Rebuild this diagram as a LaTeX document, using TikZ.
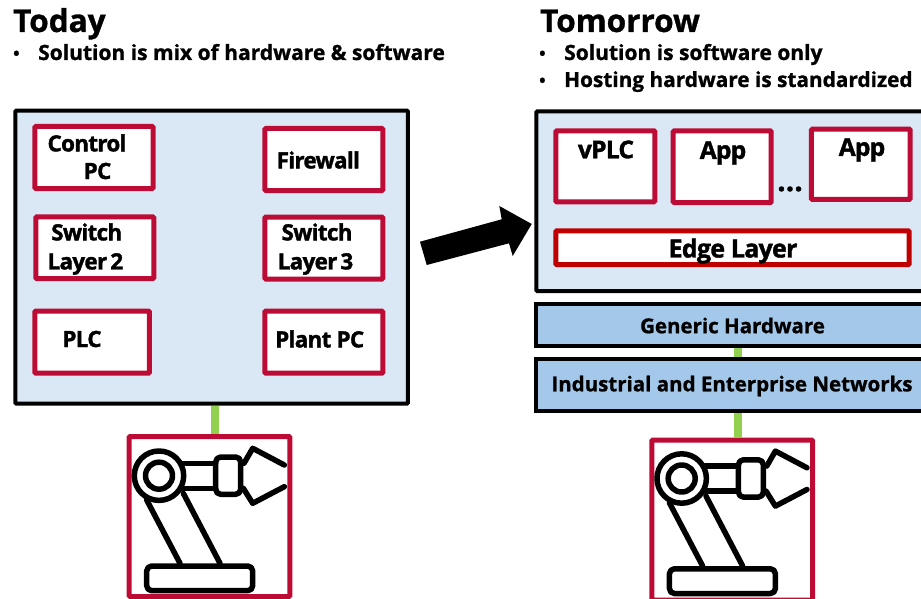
\documentclass[tikz,border=0pt]{standalone}
\usepackage{fontspec}
\setmainfont{Open Sans}[BoldFeatures={FakeBold=1}]
\newfontfamily\boxfont{Open Sans}[LetterSpace=-3,BoldFeatures={FakeBold=1.5}]
\definecolor{panelblue}{HTML}{DAE8F5}
\definecolor{layerblue}{HTML}{A3C8EA}
\definecolor{boxred}{HTML}{BC0C35}
\definecolor{edgered}{HTML}{C00000}
\definecolor{linkgreen}{HTML}{92D050}
\newcommand{\bulletline}[1]{\makebox[25pt][l]{\fontsize{17}{17}\selectfont\raisebox{0.5pt}{•}}#1}
\tikzset{
  panel/.style={draw=black,line width=4pt,fill=panelblue,rounded corners=1pt,inner sep=0pt},
  layer/.style={draw=black,line width=4pt,fill=layerblue,inner sep=0pt},
  redbox/.style={draw=boxred,line width=5pt,fill=white,rounded corners=1pt,inner sep=0pt},
  edgebox/.style={draw=edgered,line width=5pt,fill=white,rounded corners=1pt,inner sep=0pt},
  title/.style={anchor=base west,inner sep=0pt,font=\bfseries\fontsize{31.5}{31.5}\selectfont},
  point/.style={anchor=base west,inner sep=0pt,font=\bfseries\fontsize{21}{24}\selectfont},
  boxtext/.style={inner sep=0pt,font=\boxfont\bfseries\fontsize{22.4}{28}\selectfont},
  bigboxtext/.style={inner sep=0pt,font=\boxfont\bfseries\fontsize{24.5}{28}\selectfont},
  layertext/.style={inner sep=0pt,font=\bfseries\fontsize{20.5}{24}\selectfont},
  greenlink/.style={draw=linkgreen,line width=8pt},
  robotline/.style={draw=black,line width=5.5pt,line cap=round,line join=round},
  robotarm/.pic={
    \draw[robotline] (159,475.7) circle (24.7);
    \draw[robotline] (159,475.7) circle (13.5);
    \draw[robotline] (183,463.3) -- (215.7,463.3);
    \draw[robotline] (183,488.3) -- (215.7,488.3);
    \draw[robotline,rounded corners=5pt] (215.7,457) rectangle (240.7,494.3);
    \draw[robotline] (244,463.3) -- (252.7,448.3) -- (284.3,465);
    \draw[robotline] (243.3,488.3) -- (252.7,503.3) -- (284.3,486.7);
    \draw[robotline] (146.7,500) -- (180,563.3);
    \draw[robotline] (183.3,493.3) -- (220,563.3);
    \draw[robotline,rounded corners=5pt] (146.7,566) rectangle (252.7,590.7);
  }
}
\begin{document}
\begin{tikzpicture}[x=1pt,y=-1pt]
  \useasboundingbox (0,0) rectangle (921,599);
  \clip (0,0) rectangle (921,599);

  \node[title] (today) at (13,32) {Today};
  \node[point] (mix) at (13,60) {\bulletline{Solution is mix of hardware \& software}};
  \node[title] (tomorrow) at (540,32) {Tomorrow};
  \node[point] (softonly) at (539,60) {\bulletline{Solution is software only}};
  \node[point,font=\bfseries\fontsize{20.8}{24}\selectfont] (hosting) at (539,87) {\bulletline{Hosting hardware is standardized}};

  \node[panel,minimum width=392.7pt,minimum height=292.8pt] (todaypanel) at (211.6,257.1) {};
  \node[redbox,minimum width=118.4pt,minimum height=62pt] (controlbox) at (94,157.5) {};
  \node[redbox,minimum width=118pt,minimum height=62pt] (firewallbox) at (323.8,159.5) {};
  \node[redbox,minimum width=118pt,minimum height=61.7pt] (switchtwobox) at (94.8,247.7) {};
  \node[redbox,minimum width=118pt,minimum height=62pt] (switchthreebox) at (323.8,248) {};
  \node[redbox,minimum width=114.7pt,minimum height=62pt] (plcbox) at (92.1,342.2) {};
  \node[redbox,minimum width=118pt,minimum height=62pt] (plantbox) at (323.8,342.2) {};
  \node[boxtext] (controltext) at (87,143) {Control};
  \node[boxtext] (pctext) at (97.5,171) {PC};
  \node[boxtext] (firewalltext) at (318.3,160) {Firewall};
  \node[boxtext] (switchtwotext) at (86.7,232) {Switch};
  \node[boxtext] (layertwotext) at (85.3,264) {Layer\hspace{-2pt} 2};
  \node[boxtext] (switchthreetext) at (317,232) {Switch};
  \node[boxtext] (layerthreetext) at (315.5,264) {Layer\hspace{-2pt} 3};
  \node[boxtext] (plctext) at (82,339) {PLC};
  \node[boxtext] (planttext) at (319.7,339) {Plant PC};

  \node[panel,minimum width=396.5pt,minimum height=179.7pt] (tomorrowpanel) at (734.5,201.2) {};
  \node[redbox,minimum width=99pt,minimum height=71pt] (vplcbox) at (605.3,166.3) {};
  \node[redbox,minimum width=98pt,minimum height=71.7pt] (appabox) at (722.2,166.7) {};
  \node[redbox,minimum width=98.7pt,minimum height=70.3pt] (appbbox) at (860.8,164.3) {};
  \node[edgebox,minimum width=353.4pt,minimum height=33.7pt] (edgebox) at (732.5,247.7) {};
  \node[bigboxtext] (vplctext) at (606,149.5) {vPLC};
  \node[bigboxtext] (appatext) at (723,153) {App};
  \node[bigboxtext] (appbtext) at (862,150) {App};
  \node[bigboxtext,font=\bfseries\fontsize{30}{30}\selectfont] (dotstext) at (790,189) {...};
  \node[bigboxtext,font=\boxfont\bfseries\fontsize{25}{28}\selectfont] (edgetext) at (733,251) {Edge Layer};

  \node[layer,minimum width=396.5pt,minimum height=41.7pt] (hardware) at (734.5,324.9) {};
  \node[layer,minimum width=396.5pt,minimum height=51.4pt] (networks) at (734.5,385) {};
  \node[layertext] (hardwaretext) at (732.5,325.5) {Generic Hardware};
  \node[layertext] (networkstext) at (732,386) {Industrial and Enterprise Networks};

  \node[redbox,minimum width=160.6pt,minimum height=160pt] (todayrobot) at (209.5,516.5) {};
  \node[redbox,minimum width=160.7pt,minimum height=160pt] (tomorrowrobot) at (732.2,520) {};
  \pic at (0,0) {robotarm};
  \pic at (522.7,2.8) {robotarm};

  \begin{scope}[greenlink]
    \draw ([xshift=3.4pt]todaypanel.south) -- ([xshift=5.5pt]todayrobot.north);
    \draw ([xshift=3.8pt]hardware.south) -- ([xshift=3.8pt]networks.north);
    \draw ([xshift=3.8pt]networks.south) -- ([xshift=6.1pt]tomorrowrobot.north);
  \end{scope}

  \fill (420,241.7) -- (501.7,219.3) -- (499.3,206) -- (531.7,224) -- (512.7,256) -- (509,243.3) -- (426.7,265) -- cycle;
\end{tikzpicture}
\end{document}
